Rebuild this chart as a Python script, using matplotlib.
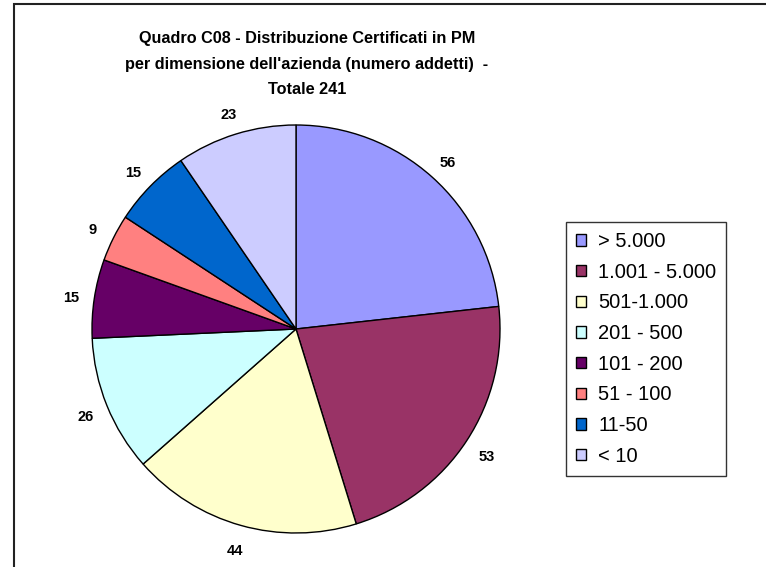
import matplotlib
matplotlib.use("Agg")
import matplotlib.pyplot as plt
from matplotlib.patches import Rectangle
from matplotlib.transforms import offset_copy
import numpy as np

plt.rcParams['font.family'] = ['Liberation Sans', 'DejaVu Sans']

categories = ["> 5.000", "1.001 - 5.000", "501-1.000", "201 - 500",
              "101 - 200", "51 - 100", "11-50", "< 10"]
values = [56, 53, 44, 26, 15, 9, 15, 23]
colors = ["#9999FF", "#993366", "#FFFFCC", "#CCFFFF",
          "#660066", "#FF8080", "#0066CC", "#CCCCFF"]
title = ("Quadro C08 - Distribuzione Certificati in PM\n"
         "per dimensione dell'azienda (numero addetti)  -\n"
         "Totale 241")

W, H = 766, 567
fig = plt.figure(figsize=(W / 100, H / 100), dpi=100)
fig.patch.set_facecolor("white")

# outer chart frame (left/top visible, right/bottom cropped)
fig.add_artist(Rectangle((14 / W, -0.05), 1.2, 1 - 4 / H + 0.05,
                         transform=fig.transFigure, fill=False,
                         edgecolor="#222222", linewidth=1.5))

cx, cy, r = 296, 329, 204
ax = fig.add_axes([(cx - r) / W, 1 - (cy + r) / H, 2 * r / W, 2 * r / H])
wedges, texts = ax.pie(values, colors=colors, startangle=90, counterclock=False,
                       labels=[str(v) for v in values], labeldistance=1.115,
                       wedgeprops=dict(edgecolor="black", linewidth=1.0),
                       textprops=dict(fontsize=10.5, fontweight="bold"))
shift = offset_copy(ax.transData, fig=fig, x=0, y=-3, units="dots")
for t in texts:
    t.set_ha("center")
    t.set_va("center")
    t.set_transform(shift)
ax.set_xlim(-1, 1)
ax.set_ylim(-1, 1)
ax.set_aspect("auto")
ax.axis("off")

fig.text(307 / W, 1 - 64 / H, title, ha="center", va="center",
         fontsize=11.7, fontweight="bold", linespacing=1.85)

leg = fig.legend(wedges, categories, loc="upper left",
                 bbox_to_anchor=(566 / W, 1 - 222 / H),
                 frameon=True, fancybox=False, shadow=False,
                 fontsize=14.5, handlelength=0.5, handleheight=0.5,
                 handletextpad=0.6, labelspacing=0.58, borderpad=0.5,
                 borderaxespad=0)
leg.get_frame().set_edgecolor("black")
leg.get_frame().set_linewidth(1.0)

fig.savefig("out.png", dpi=100)
